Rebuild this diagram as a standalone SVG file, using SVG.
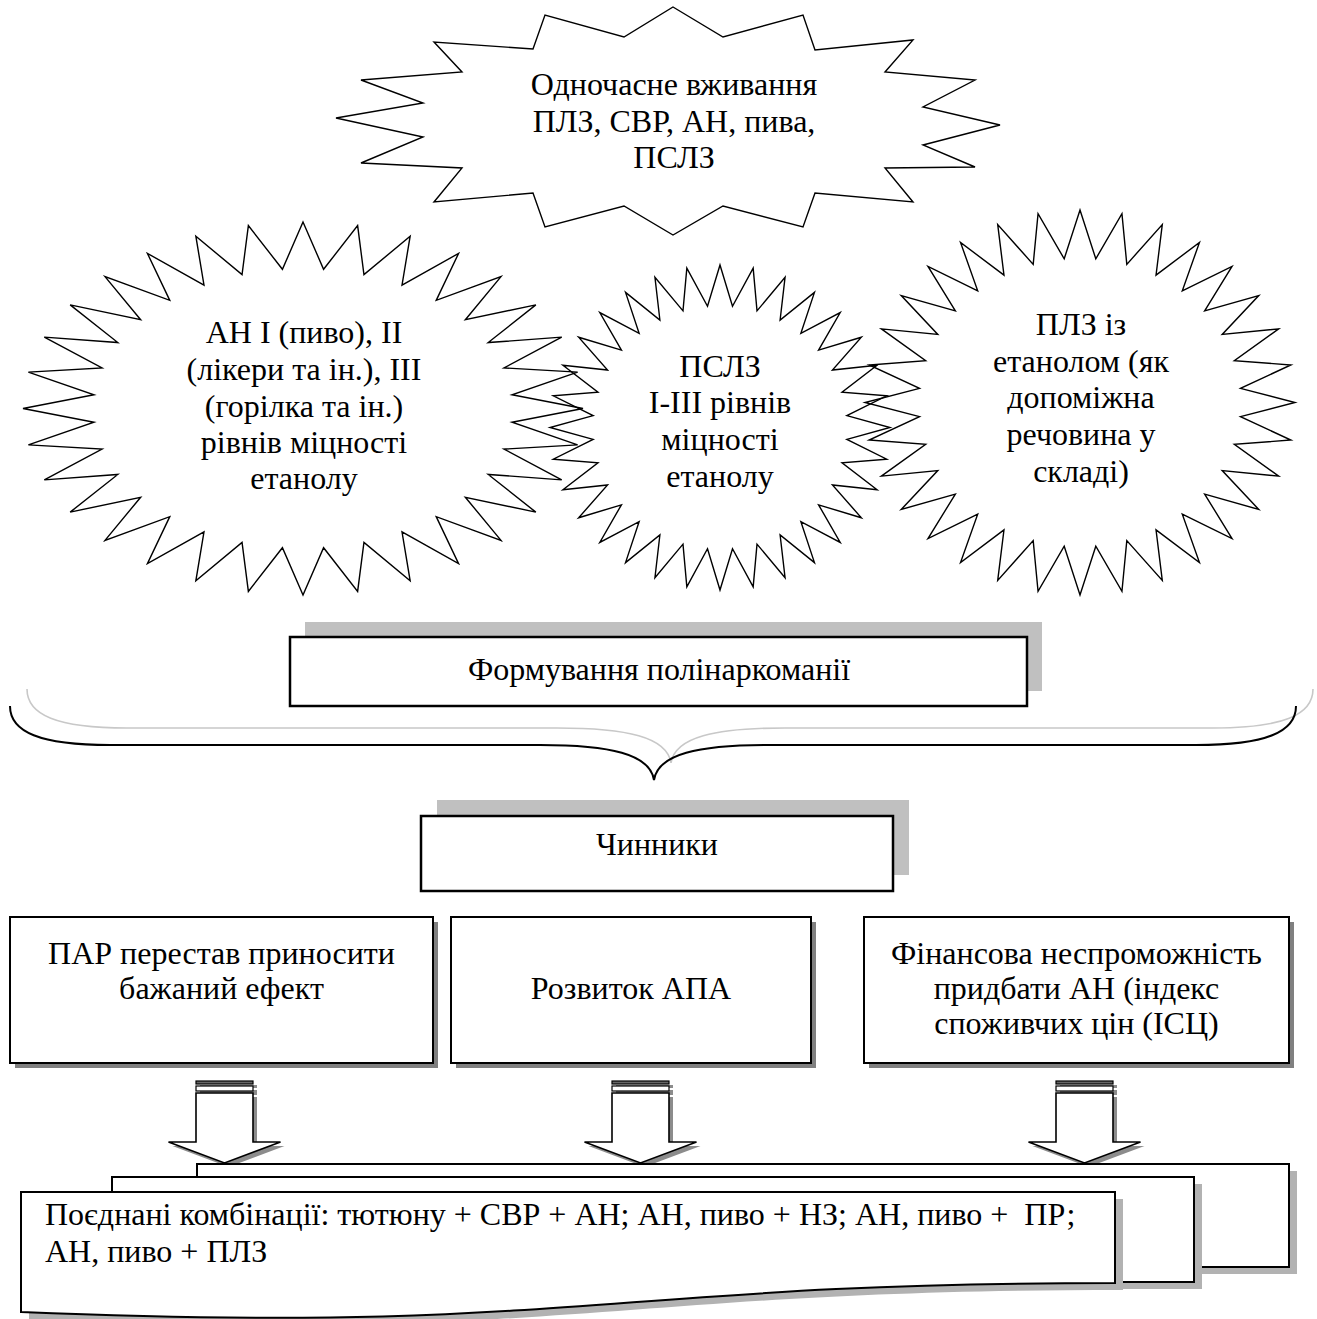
<svg xmlns="http://www.w3.org/2000/svg" width="1317" height="1319" viewBox="0 0 1317 1319">
<style>
.t{font-family:"Liberation Serif","Times New Roman",serif;font-size:32px;fill:#000;text-anchor:middle}
.tl{font-family:"Liberation Serif","Times New Roman",serif;font-size:32px;fill:#000;text-anchor:start;white-space:pre}
.star{fill:none;stroke:#000;stroke-width:1.4;vector-effect:non-scaling-stroke;stroke-linejoin:miter}
.box{fill:#fff;stroke:#000;stroke-width:2.5}
.fbox{fill:#fff;stroke:#000;stroke-width:2}
.sh1{fill:#c0c0c0}
.sh2{fill:#808080}
.sh3{fill:#b2b2b2}
.page{fill:#fff;stroke:#000;stroke-width:2}
</style>
<defs>
<polygon id="star32" vector-effect="non-scaling-stroke" points="0,-100 7.35,-74.64 19.51,-98.08 21.77,-71.77 38.27,-92.39 35.36,-66.14 55.56,-83.15 47.58,-57.98 70.71,-70.71 57.98,-47.58 83.15,-55.56 66.14,-35.36 92.39,-38.27 71.77,-21.77 98.08,-19.51 74.64,-7.35 100,0 74.64,7.35 98.08,19.51 71.77,21.77 92.39,38.27 66.14,35.36 83.15,55.56 57.98,47.58 70.71,70.71 47.58,57.98 55.56,83.15 35.36,66.14 38.27,92.39 21.77,71.77 19.51,98.08 7.35,74.64 0,100 -7.35,74.64 -19.51,98.08 -21.77,71.77 -38.27,92.39 -35.36,66.14 -55.56,83.15 -47.58,57.98 -70.71,70.71 -57.98,47.58 -83.15,55.56 -66.14,35.36 -92.39,38.27 -71.77,21.77 -98.08,19.51 -74.64,7.35 -100,0 -74.64,-7.35 -98.08,-19.51 -71.77,-21.77 -92.39,-38.27 -66.14,-35.36 -83.15,-55.56 -57.98,-47.58 -70.71,-70.71 -47.58,-57.98 -55.56,-83.15 -35.36,-66.14 -38.27,-92.39 -21.77,-71.77 -19.51,-98.08 -7.35,-74.64"/>
<g id="barrow">
<g transform="translate(4,4)" fill="#8c8c8c">
<rect x="-28.5" y="1" width="57" height="3"/>
<rect x="-28.5" y="6" width="57" height="5"/>
<polygon points="-28.5,13 28.5,13 28.5,62 56,62 0,83 -56,62 -28.5,62"/>
</g>
<rect x="-28.5" y="1" width="57" height="3" fill="#666" stroke="#000" stroke-width="1.2"/>
<rect x="-28.5" y="6" width="57" height="5" fill="#fff" stroke="#000" stroke-width="1.2"/>
<polygon points="-28.5,13 28.5,13 28.5,62 56,62 0,83 -56,62 -28.5,62" fill="#fff" stroke="#000" stroke-width="1.6"/>
</g>
</defs>

<g id="star-top">
<polygon class="star" points="673,7 723,37 803,15 815,50 913,40 885,72 975,80 923,107 1000,125 923,145 975,167 885,168 913,202 815,193 803,227 723,206 673,235 624,206 545,227 533,193 434,202 462,168 361,163 423,137 336,118 423,103 361,80 462,72 434,42 533,49 545,15 624,37"/>
<text class="t" x="674" y="95">Одночасне вживання</text>
<text class="t" x="674" y="131.5">ПЛЗ, СВР, АН, пива,</text>
<text class="t" x="674" y="168">ПСЛЗ</text>
</g>

<g id="star-left">
<use href="#star32" class="star" transform="translate(303,408.5) scale(2.8,1.865)"/>
<text class="t" x="304" y="343">АН I (пиво), II</text>
<text class="t" x="304" y="380">(лікери та ін.), III</text>
<text class="t" x="304" y="417">(горілка та ін.)</text>
<text class="t" x="304" y="453">рівнів міцності</text>
<text class="t" x="304" y="489">етанолу</text>
</g>

<g id="star-middle">
<use href="#star32" class="star" transform="translate(720,427.5) scale(1.7,1.625)"/>
<text class="t" x="720" y="377">ПСЛЗ</text>
<text class="t" x="720" y="413">I-III рівнів</text>
<text class="t" x="720" y="450">міцності</text>
<text class="t" x="720" y="487">етанолу</text>
</g>

<g id="star-right">
<use href="#star32" class="star" transform="translate(1080,402.5) scale(2.15,1.925)"/>
<text class="t" x="1081" y="335">ПЛЗ із</text>
<text class="t" x="1081" y="372">етанолом (як</text>
<text class="t" x="1081" y="408">допоміжна</text>
<text class="t" x="1081" y="445">речовина у</text>
<text class="t" x="1081" y="482">складі)</text>
</g>

<g id="box-formuvannia">
<rect class="sh1" x="305" y="622" width="737" height="69"/>
<rect class="box" x="290" y="637" width="737" height="69"/>
<text class="t" x="659" y="680">Формування полінаркоманії</text>
</g>

<g id="box-chynnyky">
<rect class="sh1" x="437" y="800" width="472" height="75"/>
<rect class="box" x="421" y="816" width="472" height="75"/>
<text class="t" x="657" y="855">Чинники</text>
</g>

<g id="box-par">
<rect class="sh2" x="15" y="922" width="423" height="146"/>
<rect class="fbox" x="10" y="917" width="423" height="146"/>
<text class="t" x="221.5" y="964">ПАР перестав приносити</text>
<text class="t" x="221.5" y="999">бажаний ефект</text>
</g>

<g id="box-apa">
<rect class="sh2" x="456" y="922" width="360" height="146"/>
<rect class="fbox" x="451" y="917" width="360" height="146"/>
<text class="t" x="631" y="999">Розвиток АПА</text>
</g>

<g id="box-finance">
<rect class="sh2" x="869" y="922" width="425" height="146"/>
<rect class="fbox" x="864" y="917" width="425" height="146"/>
<text class="t" x="1076.5" y="964">Фінансова неспроможність</text>
<text class="t" x="1076.5" y="999">придбати АН (індекс</text>
<text class="t" x="1076.5" y="1034">споживчих цін (ІСЦ)</text>
</g>

<g id="connectors">
<path d="M10,706 C10,732 40,745 110,745 L540,745 C610,745 650,754 654,780 C658,754 698,745 768,745 L1196,745 C1266,745 1296,732 1296,706" transform="translate(17,-17)" fill="none" stroke="#c8c8c8" stroke-width="1.6"/>
<path d="M10,706 C10,732 40,745 110,745 L540,745 C610,745 650,754 654,780 C658,754 698,745 768,745 L1196,745 C1266,745 1296,732 1296,706" fill="none" stroke="#000" stroke-width="2"/>
<use href="#barrow" transform="translate(224.5,1080)"/>
<use href="#barrow" transform="translate(640.5,1080)"/>
<use href="#barrow" transform="translate(1084.5,1080)"/>
</g>

<g id="multidoc">
<rect class="sh3" x="205" y="1171" width="1092" height="103"/>
<rect class="page" x="197" y="1164" width="1092" height="103"/>
<rect class="sh3" x="120" y="1184" width="1082" height="105"/>
<rect class="page" x="112" y="1177" width="1082" height="105"/>
<path class="sh3" d="M29,1199 L1123,1199 L1123,1290 C608,1290 576,1342 29,1319 Z"/>
<path class="page" d="M21,1192 L1115,1192 L1115,1283 C600,1283 568,1335 21,1312 Z"/>
<text class="tl" x="45" y="1225">Поєднані комбінації: тютюну + СВР + АН; АН, пиво + НЗ; АН, пиво +  ПР;</text>
<text class="tl" x="45" y="1262">АН, пиво + ПЛЗ</text>
</g>
</svg>
